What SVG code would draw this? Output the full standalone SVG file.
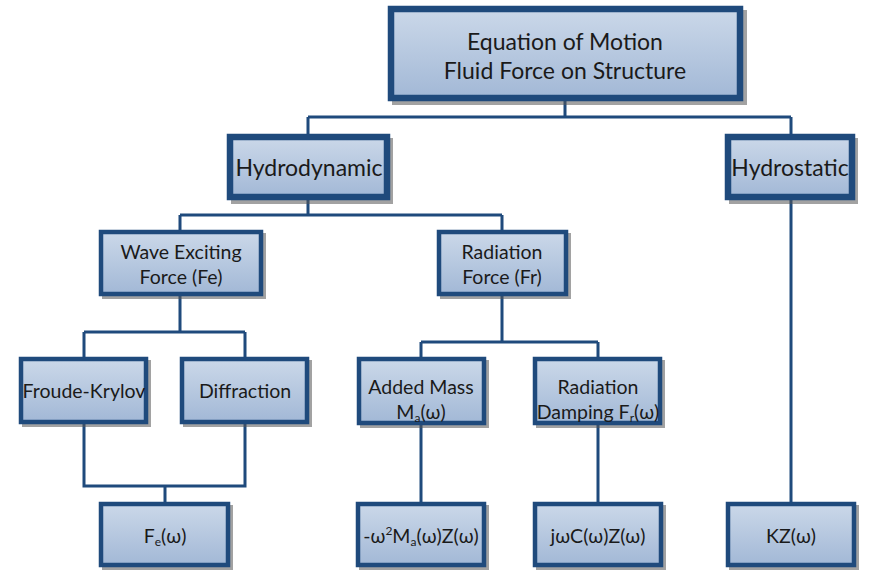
<svg xmlns="http://www.w3.org/2000/svg" width="872" height="580" viewBox="0 0 872 580">
<defs>
<linearGradient id="g" x1="0" y1="0" x2="0" y2="1">
<stop offset="0" stop-color="#cbd8e9"/>
<stop offset="1" stop-color="#a2b8d6"/>
</linearGradient>
</defs>
<style>
.box{fill:url(#g);stroke:#1f4a7c;stroke-width:4.5}
.thick{stroke-width:6.5}
.sh{fill:#555;opacity:0.55}
.t{font-family:Lato,"Open Sans",sans-serif;fill:#1a1a1a;text-anchor:middle}
.big{font-size:23px}
.mid{font-size:23px}
.sm{font-size:19.5px}
.c{fill:none;stroke:#1f4a7c;stroke-width:3}
</style>
<rect width="872" height="580" fill="#fff"/>
<g id="connectors">
<path class="c" d="M565,101V117M308,117H791M308,117V134M791,117V134"/>
<path class="c" d="M308,200V215M180,215H502M180,215V230M502,215V230"/>
<path class="c" d="M791,200V502"/>
<path class="c" d="M180,296V332M84,332H245M84,332V357M245,332V357"/>
<path class="c" d="M502,296V342M421,342H598M421,342V358M598,342V358"/>
<path class="c" d="M84,424V486H245V424M165,486V502"/>
<path class="c" d="M421,425V502M598,425V502"/>
</g>
<g id="top">
<rect class="sh" x="392" y="10" width="355" height="95"/>
<rect class="box thick" x="391" y="9" width="349" height="89"/>
<text class="t big" x="565" y="50">Equation of Motion</text>
<text class="t big" x="565" y="79">Fluid Force on Structure</text>
</g>
<g id="hydrodynamic">
<rect class="sh" x="231" y="138" width="162" height="66"/>
<rect class="box thick" x="230" y="137" width="157" height="60"/>
<text class="t mid" x="309" y="176">Hydrodynamic</text>
</g>
<g id="hydrostatic">
<rect class="sh" x="729" y="138" width="129" height="66"/>
<rect class="box thick" x="728" y="137" width="124" height="60"/>
<text class="t mid" x="790" y="176">Hydrostatic</text>
</g>
<g id="wave">
<rect class="sh" x="102" y="233" width="164" height="66"/>
<rect class="box" x="101" y="232" width="160" height="62"/>
<text class="t sm" x="181" y="259">Wave Exciting</text>
<text class="t sm" x="181" y="284">Force (Fe)</text>
</g>
<g id="radiation">
<rect class="sh" x="440" y="233" width="131" height="66"/>
<rect class="box" x="439" y="232" width="127" height="62"/>
<text class="t sm" x="502" y="259">Radiation</text>
<text class="t sm" x="502" y="284">Force (Fr)</text>
</g>
<g id="froude">
<rect class="sh" x="22" y="360" width="129" height="67"/>
<rect class="box" x="21" y="359" width="125" height="63"/>
<text class="t sm" x="84" y="398">Froude-Krylov</text>
</g>
<g id="diffraction">
<rect class="sh" x="183" y="360" width="129" height="67"/>
<rect class="box" x="182" y="359" width="125" height="63"/>
<text class="t sm" x="245" y="398">Diffraction</text>
</g>
<g id="addedmass">
<rect class="sh" x="360" y="360" width="129" height="68"/>
<rect class="box" x="359" y="359" width="125" height="64"/>
<text class="t sm" x="421" y="394">Added Mass</text>
<text class="t sm" x="421" y="419">M<tspan font-size="12" dy="3">a</tspan><tspan dy="-3">(ω)</tspan></text>
</g>
<g id="damping">
<rect class="sh" x="536" y="360" width="129" height="68"/>
<rect class="box" x="535" y="359" width="125" height="64"/>
<text class="t sm" x="598" y="394">Radiation</text>
<text class="t sm" x="598" y="419">Damping F<tspan font-size="12" dy="3">r</tspan><tspan dy="-3">(ω)</tspan></text>
</g>
<g id="fe">
<rect class="sh" x="102" y="505" width="131" height="65"/>
<rect class="box" x="101" y="504" width="127" height="61"/>
<text class="t sm" x="165" y="543">F<tspan font-size="12" dy="3">e</tspan><tspan dy="-3">(ω)</tspan></text>
</g>
<g id="addedterm">
<rect class="sh" x="359" y="505" width="130" height="65"/>
<rect class="box" x="358" y="504" width="126" height="61"/>
<text class="t sm" x="421" y="543">-ω<tspan font-size="12" dy="-8">2</tspan><tspan dy="8">M</tspan><tspan font-size="12" dy="3">a</tspan><tspan dy="-3">(ω)Z(ω)</tspan></text>
</g>
<g id="dampterm">
<rect class="sh" x="536" y="505" width="130" height="65"/>
<rect class="box" x="535" y="504" width="126" height="61"/>
<text class="t sm" x="598" y="543">jωC(ω)Z(ω)</text>
</g>
<g id="kz">
<rect class="sh" x="729" y="505" width="130" height="65"/>
<rect class="box" x="728" y="504" width="126" height="61"/>
<text class="t sm" x="791" y="543">KZ(ω)</text>
</g>
</svg>
